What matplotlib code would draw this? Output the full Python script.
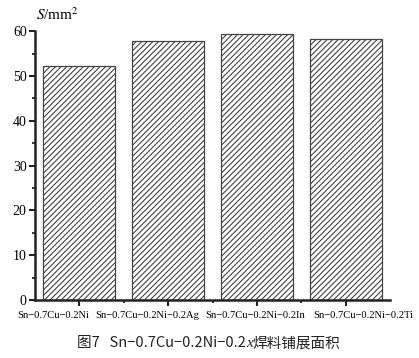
import numpy as np
import matplotlib.pyplot as plt
from matplotlib.ticker import MultipleLocator, FixedLocator
from matplotlib.transforms import ScaledTranslation

plt.rcParams['hatch.color'] = '#5a5a5a'
plt.rcParams['hatch.linewidth'] = 0.8

alloys = ['Sn\u22120.7Cu\u22120.2Ni', 'Sn\u22120.7Cu\u22120.2Ni\u22120.2Ag',
          'Sn\u22120.7Cu\u22120.2Ni\u22120.2In', 'Sn\u22120.7Cu\u22120.2Ni\u22120.2Ti']
area = [52.3, 57.7, 59.4, 58.2]

fig = plt.figure(figsize=(4.19, 3.58), dpi=100)
ax = fig.add_axes([0.0835, 0.162, 0.848, 0.751])

x = np.arange(len(alloys))
ax.bar(x, area, width=0.81, facecolor='white', edgecolor='#444444',
       linewidth=0.9, hatch='//////')

ax.set_xlim(-0.5, 3.5)
ax.set_ylim(0, 60)
ax.spines['top'].set_visible(False)
ax.spines['right'].set_visible(False)
for s in ('left', 'bottom'):
    ax.spines[s].set_linewidth(1.8)
    ax.spines[s].set_color('#222222')

serif = ['Liberation Serif', 'DejaVu Serif']
ax.set_xticks(x)
ax.set_xticklabels(alloys, family=serif, fontsize=7.6)
ax.xaxis.set_minor_locator(FixedLocator([0.5, 1.5, 2.5]))
ax.yaxis.set_major_locator(MultipleLocator(10))
ax.yaxis.set_minor_locator(MultipleLocator(5))
for lab in ax.get_yticklabels():
    lab.set_family(serif)
    lab.set_fontsize(10)
ax.tick_params(which='major', direction='out', length=4, width=1.5, color='#222222', pad=2)
ax.tick_params(which='minor', direction='out', length=2.5, width=1.3, color='#222222')
ax.tick_params(axis='x', which='major', pad=4)

# labels are squeezed side by side in the original, not centred on ticks
shifts_px = [-26, -21, -2, 17]
for lab, dx in zip(ax.get_xticklabels(), shifts_px):
    lab.set_transform(lab.get_transform() + ScaledTranslation(dx / 100, 0, fig.dpi_scale_trans))

fig.text(0.086, 0.935, r'$S$/mm$^2$', fontsize=11, family=serif,
         math_fontfamily='stix', ha='left', va='bottom')

cjk = ['Noto Sans CJK SC', 'DejaVu Sans']
base_y = 0.03
t1 = fig.text(0.184, base_y, '图7   Sn\u22120.7Cu\u22120.2Ni\u22120.2', fontsize=10.5,
              family=cjk, ha='left', va='baseline', color='#222222')
t2 = fig.text(0, base_y, 'x', fontsize=11, family=serif, style='italic', color='#222222',
              va='baseline')
fig.canvas.draw()
inv = fig.transFigure.inverted()
bb = t1.get_window_extent()
t2.set_x(inv.transform((bb.x1, bb.y0))[0])
fig.canvas.draw()
bb2 = t2.get_window_extent()
fig.text(inv.transform((bb2.x1, bb2.y0))[0], base_y, '焊料铺展面积', fontsize=10.5,
         family=cjk, ha='left', va='baseline', color='#222222')

fig.savefig('out.png', dpi=100, facecolor='white')
